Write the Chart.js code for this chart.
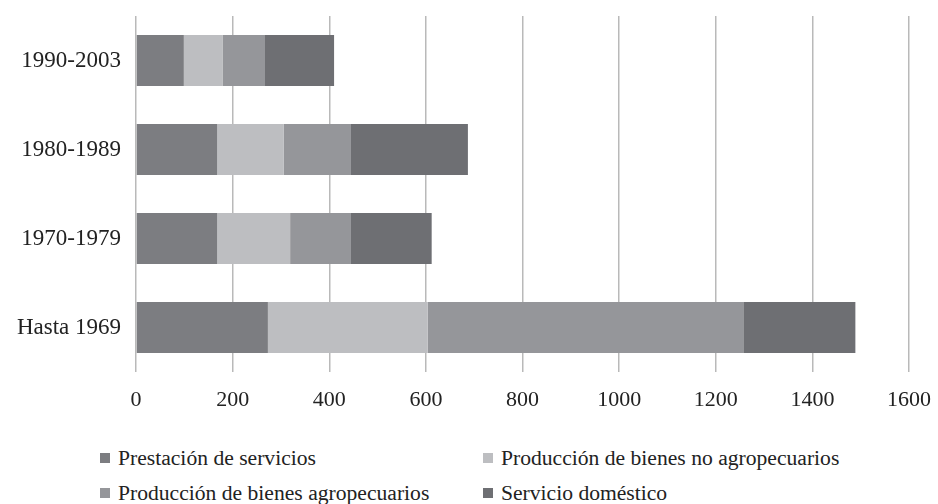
<!DOCTYPE html>
<html>
<head>
<meta charset="utf-8">
<script src="https://cdn.jsdelivr.net/npm/chart.js@4/dist/chart.umd.min.js"></script>
<style>
  html, body { margin: 0; padding: 0; background: #fff; }
  #wrap { position: relative; width: 938px; height: 504px; }
  #chart { position: absolute; left: 0; top: 0; }
  .leg { position: absolute; font-family: "Liberation Serif", serif; font-size: 20px; color: #222; white-space: nowrap; line-height: 20px; }
  .leg span.box { position: absolute; width: 10px; height: 10px; left: -18px; top: 5px; }
  .leg span.txt { display: inline-block; transform-origin: left center; transform: scaleX(1.08); }
</style>
</head>
<body>
<div id="wrap">
  <canvas id="chart" width="938" height="420"></canvas>
  <div id="legend"></div>
</div>
<script>
// categories, top to bottom
var periods = ['1990-2003', '1980-1989', '1970-1979', 'Hasta 1969'];

// series values
var prestacionServicios = [99, 168, 168, 273];
var bienesNoAgro = [80, 138, 151, 331];
var bienesAgro = [88, 139, 126, 653];
var servicioDomestico = [143, 242, 167, 232];

var seriesNames = [
  'Prestación de servicios',
  'Producción de bienes no agropecuarios',
  'Producción de bienes agropecuarios',
  'Servicio doméstico'
];
var seriesColors = ['#7c7d81', '#bdbec1', '#95969a', '#6e6f73'];

var xTicks = [0, 200, 400, 600, 800, 1000, 1200, 1400, 1600];

var allSeries = [prestacionServicios, bienesNoAgro, bienesAgro, servicioDomestico];

var datasets = allSeries.map(function (values, i) {
  return {
    label: seriesNames[i],
    data: values,
    backgroundColor: seriesColors[i],
    borderWidth: 0,
    categoryPercentage: 1,
    barPercentage: 0.573
  };
});

var font = { family: '"Liberation Serif", serif', size: 23 };

var ctx = document.getElementById('chart').getContext('2d');
var myChart = new Chart(ctx, {
  type: 'bar',
  data: { labels: periods, datasets: datasets },
  options: {
    indexAxis: 'y',
    responsive: false,
    animation: false,
    layout: { padding: { top: 16, right: 29, bottom: 0, left: 0 } },
    plugins: {
      legend: { display: false },
      tooltip: { enabled: false }
    },
    scales: {
      x: {
        stacked: true,
        min: xTicks[0],
        max: xTicks[xTicks.length - 1],
        afterBuildTicks: function (scale) {
          scale.ticks = xTicks.map(function (v) { return { value: v }; });
        },
        afterFit: function (scale) {
          scale.height = 48;
          scale.paddingLeft = 0;
          scale.paddingRight = 0;
        },
        grid: { color: '#b9b9b9', lineWidth: 1.5, drawTicks: false },
        border: { display: false },
        ticks: {
          font: { family: font.family, size: 22 },
          color: '#222',
          padding: 15,
          callback: function (value) { return String(value); }
        }
      },
      y: {
        stacked: true,
        afterFit: function (scale) {
          scale.width = 136;
          scale.paddingTop = 0;
          scale.paddingBottom = 0;
        },
        grid: { display: false, drawTicks: false },
        border: { display: false },
        ticks: { font: font, color: '#222', padding: 15 }
      }
    }
  }
});

// legend laid out as a two-column grid like the original
var legendPos = [
  { left: 118, top: 448 },
  { left: 501, top: 448 },
  { left: 118, top: 483 },
  { left: 501, top: 483 }
];
var legend = document.getElementById('legend');
seriesNames.forEach(function (name, i) {
  var item = document.createElement('div');
  item.className = 'leg';
  item.style.left = legendPos[i].left + 'px';
  item.style.top = legendPos[i].top + 'px';
  var box = document.createElement('span');
  box.className = 'box';
  box.style.background = seriesColors[i];
  var txt = document.createElement('span');
  txt.className = 'txt';
  txt.textContent = name;
  item.appendChild(box);
  item.appendChild(txt);
  legend.appendChild(item);
});
</script>
</body>
</html>
